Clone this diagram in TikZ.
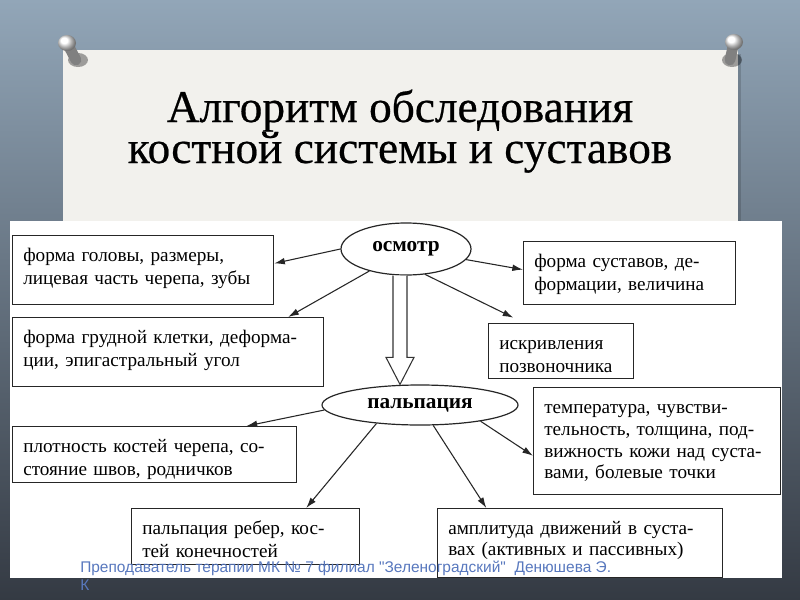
\documentclass[tikz,border=0pt]{standalone}
\usepackage{fontspec}
\setmainfont{Liberation Serif}
\newfontfamily\titlefont{Liberation Serif}[FakeBold=0.5]
\newfontfamily\footfont{Liberation Sans}
\usetikzlibrary{arrows.meta,positioning,shapes.geometric,calc}

\definecolor{slatetop}{RGB}{146,166,184}
\definecolor{slatebot}{RGB}{52,58,67}
\definecolor{paper}{RGB}{242,241,237}
\definecolor{footblue}{RGB}{88,120,190}

\begin{document}
\begin{tikzpicture}[
    x=0.75pt, y=-0.75pt,
    font=\fontsize{14.4}{17}\selectfont,
    >={Latex[length=8pt,width=5pt]},
    item/.style 2 args={draw=black!85, line width=0.9pt, fill=white, anchor=north west, align=left,
      inner xsep=8pt, inner ysep=0pt, text width=#1, text height=19.5pt, text depth=#2},
    stage/.style={draw=black!85, line width=0.9pt, fill=white, ellipse, inner sep=0pt, font=\fontsize{16}{18}\selectfont\bfseries},
    link/.style={->, line width=0.8pt, black!85},
    bigarrow/.style={draw=black!80, line width=0.8pt, fill=white, line join=miter}
  ]
    \useasboundingbox (0,0) rectangle (800,600);
    \shade[top color=slatetop, bottom color=slatebot] (0,0) rectangle (800,600);

    % paper sheet with title
    \fill[black, opacity=0.15] (66,54) rectangle (741,228);
    \fill[paper] (63,50) rectangle (738,225);
    \node[anchor=base, font=\titlefont\fontsize{34}{40}\selectfont] (title1) at (400,122) {Алгоритм обследования};
    \node[anchor=base, font=\titlefont\fontsize{34}{40}\selectfont] (title2) at (400,163) {костной системы и суставов};

    % pins
    \foreach \hx/\hy/\bx/\by in {67/43/76/60, 734/42/730/60} {
      \fill[black, opacity=0.35] (\bx+2,\by) ellipse (10 and 7);
      \draw[line width=8pt, line cap=round, black!50] (\hx,\hy) -- (\bx,\by);
      \shade[ball color=white] (\hx,\hy) ellipse (9 and 8);
    }

    % diagram sheet
    \fill[white] (10,221) rectangle (782,578);

    \node[stage, minimum width=97.5pt, minimum height=39pt] (osm) at (406,249) {осмотр};
    \node[stage, minimum width=147pt, minimum height=30pt] (palp) at (420,405) {пальпация};

    \node[item={179.75pt}{32.25pt}] (b1) at (12,235) {форма головы, размеры,\\лицевая часть черепа, зубы};
    \node[item={217.25pt}{32.25pt}] (b2) at (12,317) {форма грудной клетки, деформа-\\ции, эпигастральный угол};
    \node[item={143pt}{27.75pt}] (b3) at (523,241) {форма суставов, де-\\формации, величина};
    \node[item={92.75pt}{21.75pt}] (b4) at (488,323) {искривления\\позвоночника};
    \node[item={169.25pt}{60.75pt}, font=\fontsize{14.4}{16.3}\selectfont] (b5) at (533,387) {температура, чувстви-\\тельность, толщина, под-\\вижность кожи над суста-\\вами, болевые точки};
    \node[item={197pt}{22.5pt}] (b6) at (12,426) {плотность костей черепа, со-\\стояние швов, родничков};
    \node[item={155pt}{22.5pt}] (b7) at (131,508) {пальпация ребер, кос-\\тей конечностей};
    \node[item={197.75pt}{32.25pt}, font=\fontsize{14.4}{16}\selectfont] (b8) at (437,508) {амплитуда движений в суста-\\вах (активных и пассивных)};

    % hollow arrow between the stages
    \coordinate (ft) at ([xshift=-4.5pt]osm.south);
    \coordinate (fb) at (ft |- palp.north);
    \draw[bigarrow] ($(ft)+(-7,0)$) -- ($(fb)+(-7,-27)$) -- ($(fb)+(-14,-27)$) -- (fb)
      -- ($(fb)+(14,-27)$) -- ($(fb)+(7,-27)$) -- ($(ft)+(7,0)$);

    \draw[link] (osm.west) -- ([yshift=5pt]b1.east);
    \draw[link] (osm.211) -- ([xshift=-27pt]b2.north east);
    \draw[link] (osm.-10) -- ([yshift=2.6pt]b3.west);
    \draw[link] (osm.-53) -- ([xshift=19pt,yshift=4pt]b4.north west);
    \draw[link] (palp.183) -- ([xshift=-38pt]b6.north east);
    \draw[link] (palp.203) -- ([xshift=-40.5pt]b7.north east);
    \draw[link] (palp.-15) -- ([yshift=-11pt]b5.west);
    \draw[link] (palp.-57) -- ([xshift=37pt]b8.north west);

    % footer
    \node[anchor=base west, inner sep=0pt, font=\footfont\fontsize{11.6}{13}\selectfont, text=footblue] (foot1) at (80,572) {Преподаватель терапии МК №~7 филиал "Зеленоградский"~~Денюшева Э.};
    \node[anchor=base west, inner sep=0pt, font=\footfont\fontsize{11.6}{13}\selectfont, text=footblue] (foot2) at (80,590) {К};
\end{tikzpicture}
\end{document}
